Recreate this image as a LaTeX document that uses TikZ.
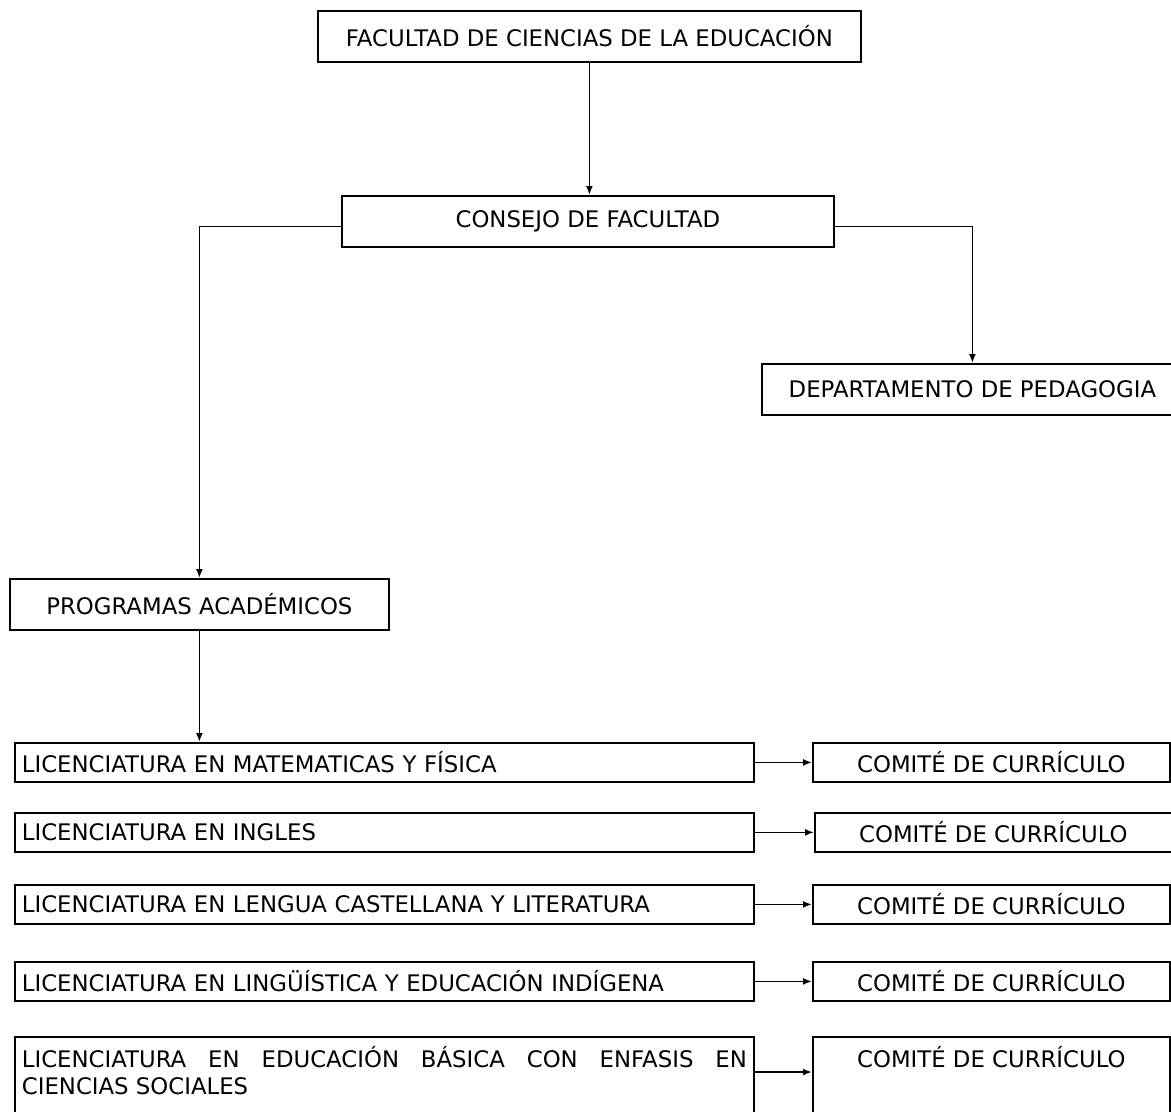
\documentclass[tikz,border=0pt]{standalone}
\usepackage{fontspec}
\setmainfont{DejaVu Sans}
\usetikzlibrary{arrows.meta}

\tikzset{
  caja/.style={draw,line width=1.8pt,rectangle,anchor=north west,inner sep=0pt,
    font=\fontsize{22.8}{27}\selectfont},
  licbox/.style={caja,minimum height=39pt,text width=725pt,inner xsep=7pt,align=left,
    minimum width=739pt},
  combox/.style={caja,minimum height=39pt,minimum width=357pt},
  flecha/.style={line width=1.8pt,-{Latex[length=9pt,width=7pt]}}
}

\begin{document}
\begin{tikzpicture}[x=1pt,y=-1pt]
\useasboundingbox[fill=white] (0,0) rectangle (1171,1112);

\node[caja,minimum width=543pt,minimum height=51pt] (fac) at (317,10) {FACULTAD DE CIENCIAS DE LA EDUCACIÓN};
\node[caja,minimum width=492pt,minimum height=51pt] (consejo) at (341,195) {CONSEJO DE FACULTAD};
\node[caja,minimum width=421pt,minimum height=51pt] (depto) at (761,363) {DEPARTAMENTO DE PEDAGOGIA};
\node[caja,minimum width=379pt,minimum height=51pt] (prog) at (9,578) {PROGRAMAS ACADÉMICOS};

\node[licbox] (lic1) at (14,742) {LICENCIATURA EN MATEMATICAS Y FÍSICA};
\node[licbox] (lic2) at (14,812) {LICENCIATURA EN INGLES};
\node[licbox] (lic3) at (14,884) {LICENCIATURA EN LENGUA CASTELLANA Y LITERATURA};
\node[licbox] (lic4) at (14,961) {LICENCIATURA EN LINGÜÍSTICA Y EDUCACIÓN INDÍGENA};
\node[licbox,align=justify,inner ysep=9pt,minimum height=90pt,text depth=50pt] (lic5) at (14,1036) {LICENCIATURA EN EDUCACIÓN BÁSICA CON ENFASIS EN\linebreak CIENCIAS SOCIALES};

\node[combox] (com1) at (812,742) {COMITÉ DE CURRÍCULO};
\node[combox] (com2) at (814,812) {COMITÉ DE CURRÍCULO};
\node[combox] (com3) at (812,884) {COMITÉ DE CURRÍCULO};
\node[combox] (com4) at (812,961) {COMITÉ DE CURRÍCULO};
\node[combox,inner ysep=9pt,minimum height=90pt,text depth=50pt] (com5) at (812,1036) {COMITÉ DE CURRÍCULO};

\draw[flecha] (fac.south) -- (fac.south |- consejo.north);
\draw[flecha] ([yshift=-5pt]consejo.west) -| (prog.north);
\draw[flecha] ([yshift=-5pt]consejo.east) -| (depto.north);
\draw[flecha] (prog.south) -- (prog.south |- lic1.north);

\draw[flecha] (lic1.east) -- (com1.west);
\draw[flecha] (lic2.east) -- (com2.west);
\draw[flecha] (lic3.east) -- (com3.west);
\draw[flecha] (lic4.east) -- (com4.west);
\coordinate (c5) at (0,1072);
\draw[flecha] (lic5.east |- c5) -- (com5.west |- c5);
\end{tikzpicture}
\end{document}
